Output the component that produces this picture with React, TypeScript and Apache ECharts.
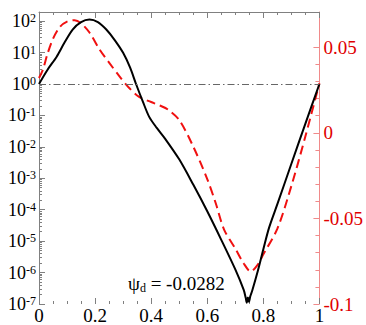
import React, { useEffect, useRef } from "react";
import * as echarts from "echarts";

// ---- data ----
const leftExponents = [-7, -6, -5, -4, -3, -2, -1, 0, 1, 2];
const rightTickValues = [-0.1, -0.05, 0, 0.05];
const rightMinorValues = [-0.09, -0.08, -0.07, -0.06, -0.04, -0.03, -0.02, -0.01, 0.01, 0.02, 0.03, 0.04];

const blackX = [0, 0.03, 0.063, 0.09, 0.12, 0.15, 0.18, 0.21, 0.24, 0.27, 0.3, 0.325, 0.346, 0.37, 0.393, 0.42, 0.45, 0.5, 0.55, 0.6, 0.65, 0.7, 0.73, 0.737, 0.741, 0.745, 0.749, 0.753, 0.76, 0.78, 0.8, 0.82, 0.85, 0.9, 0.95, 1.0];
const blackY = [1, 2.8, 7.4, 20, 54, 93, 112, 93, 54, 25, 9.8, 3.3, 1, 0.28, 0.09, 0.04, 0.018, 0.004, 6.3e-4, 8.9e-5, 1.1e-5, 1.26e-6, 2.8e-7, 1.6e-7, 1.1e-7, 1.6e-7, 1.15e-7, 1.7e-7, 2.6e-7, 1.1e-6, 5.5e-6, 2.6e-5, 1.5e-4, 2.9e-3, 0.055, 1];

const redX = [0, 0.014, 0.03, 0.05, 0.075, 0.1, 0.127, 0.15, 0.18, 0.216, 0.25, 0.287, 0.32, 0.357, 0.4, 0.43, 0.46, 0.5, 0.55, 0.6, 0.63, 0.66, 0.7, 0.73, 0.755, 0.78, 0.8, 0.85, 0.9, 0.95, 1.0];
const redY = [0.032, 0.037, 0.046, 0.055, 0.062, 0.065, 0.0658, 0.064, 0.0586, 0.0487, 0.041, 0.033, 0.0265, 0.021, 0.018, 0.016, 0.0136, 0.0075, -0.008, -0.027, -0.041, -0.0565, -0.0676, -0.0763, -0.081, -0.077, -0.071, -0.056, -0.031, -0.002, 0.029];

const referenceLevel = 1;
const psiSymbol = "ψ";
const psiSub = "d";
const psiValue = " = -0.0282";

const FONT = "Liberation Serif";
const GRAY = "#808080";
const PINK = "#f08a8a";
const RED = "#f01010";
const LABEL_RED = "#e00000";

export default function App() {
  const ref = useRef<HTMLDivElement>(null);
  useEffect(() => {
    document.body.style.margin = "0";
    if (!ref.current) return;
    const chart = echarts.init(ref.current, null, { renderer: "svg" });
    const leftMajor = leftExponents.map((e) => Math.pow(10, e));
    const leftMinor: number[] = [];
    for (let e = -7; e <= 2; e++) {
      for (let k = 2; k <= 9; k++) {
        const v = k * Math.pow(10, e);
        if (v < 195) leftMinor.push(v);
      }
    }
    const option: any = {
      animation: false,
      grid: { left: 39, right: 44, top: 12, bottom: 21 },
      xAxis: [
        {
          type: "value",
          position: "bottom",
          min: 0,
          max: 1,
          interval: 0.2,
          axisLine: { show: false, onZero: false },
          axisTick: { inside: true, length: 6, lineStyle: { color: GRAY } },
          minorTick: { show: true, splitNumber: 4, length: 3, lineStyle: { color: GRAY } },
          splitLine: { show: false },
          axisLabel: {
            margin: 2,
            fontSize: 19,
            fontFamily: FONT,
            color: "#000",
            formatter: (v: number) => String(+v.toFixed(1)),
          },
        },
        {
          type: "value",
          position: "top",
          min: 0,
          max: 1,
          interval: 0.2,
          axisLine: { show: true, onZero: false, lineStyle: { color: GRAY, width: 1 } },
          axisTick: { inside: true, length: 6, lineStyle: { color: GRAY } },
          minorTick: { show: true, splitNumber: 4, length: 3, lineStyle: { color: GRAY } },
          splitLine: { show: false },
          axisLabel: { show: false },
        },
      ],
      yAxis: [
        {
          type: "log",
          logBase: 10,
          position: "left",
          min: 1e-7,
          max: 195,
          axisLine: { show: true, onZero: false, lineStyle: { color: GRAY, width: 1 } },
          axisTick: { inside: true, length: 6, customValues: leftMajor, lineStyle: { color: GRAY } },
          splitLine: { show: false },
          axisLabel: {
            customValues: leftMajor,
            margin: 3,
            fontFamily: FONT,
            formatter: (v: number) => `{b|10}{s|${Math.round(Math.log10(v))}}`,
            rich: {
              b: { fontSize: 18, fontFamily: FONT, color: "#000", lineHeight: 18 },
              s: { fontSize: 12, fontFamily: FONT, color: "#000", lineHeight: 12, verticalAlign: "top" },
            },
          },
        },
        {
          type: "value",
          position: "right",
          min: -0.1,
          max: 0.0706,
          axisLine: { show: true, onZero: false, lineStyle: { color: PINK, width: 1 } },
          axisTick: { inside: true, length: 6, customValues: rightTickValues, lineStyle: { color: PINK } },
          splitLine: { show: false },
          axisLabel: {
            customValues: rightTickValues,
            margin: 4,
            fontSize: 19,
            fontFamily: FONT,
            color: LABEL_RED,
            formatter: (v: number) => String(+v.toFixed(2)),
          },
        },
        {
          type: "value",
          position: "right",
          min: -0.1,
          max: 0.0706,
          axisLine: { show: false, onZero: false },
          axisTick: { inside: true, length: 4, customValues: rightMinorValues, lineStyle: { color: PINK } },
          splitLine: { show: false },
          axisLabel: { show: false },
        },
        {
          type: "log",
          logBase: 10,
          position: "left",
          min: 1e-7,
          max: 195,
          axisLine: { show: false, onZero: false },
          axisTick: { inside: true, length: 3, customValues: leftMinor, lineStyle: { color: GRAY } },
          splitLine: { show: false },
          axisLabel: { show: false },
        },
      ],
      series: [
        {
          type: "line",
          xAxisIndex: 0,
          yAxisIndex: 0,
          data: blackX.map((x, i) => [x, blackY[i]]),
          showSymbol: false,
          smooth: 0.3,
          lineStyle: { color: "#000", width: 2 },
          markLine: {
            silent: true,
            symbol: "none",
            label: { show: false },
            lineStyle: { color: "#666", width: 1, type: [7, 3, 1.5, 3] },
            data: [{ yAxis: referenceLevel }],
          },
          z: 3,
        },
        {
          type: "line",
          xAxisIndex: 0,
          yAxisIndex: 1,
          data: redX.map((x, i) => [x, redY[i]]),
          showSymbol: false,
          smooth: 0.3,
          lineStyle: { color: RED, width: 2, type: [9, 5] },
          z: 2,
        },
      ],
      graphic: [
        {
          type: "text",
          left: 128,
          top: 274,
          style: {
            text: `{p|${psiSymbol}}{s|${psiSub}}{t|${psiValue}}`,
            fontFamily: FONT,
            fontSize: 19,
            rich: {
              p: { fontSize: 19, fontFamily: FONT, fill: "#000", lineHeight: 20 },
              s: { fontSize: 12, fontFamily: FONT, fill: "#000", lineHeight: 12, verticalAlign: "bottom" },
              t: { fontSize: 19, fontFamily: FONT, fill: "#000", lineHeight: 20 },
            },
          },
        },
      ],
    };
    chart.setOption(option);
    return () => chart.dispose();
  }, []);
  return <div ref={ref} style={{ width: 366, height: 325 }} />;
}
